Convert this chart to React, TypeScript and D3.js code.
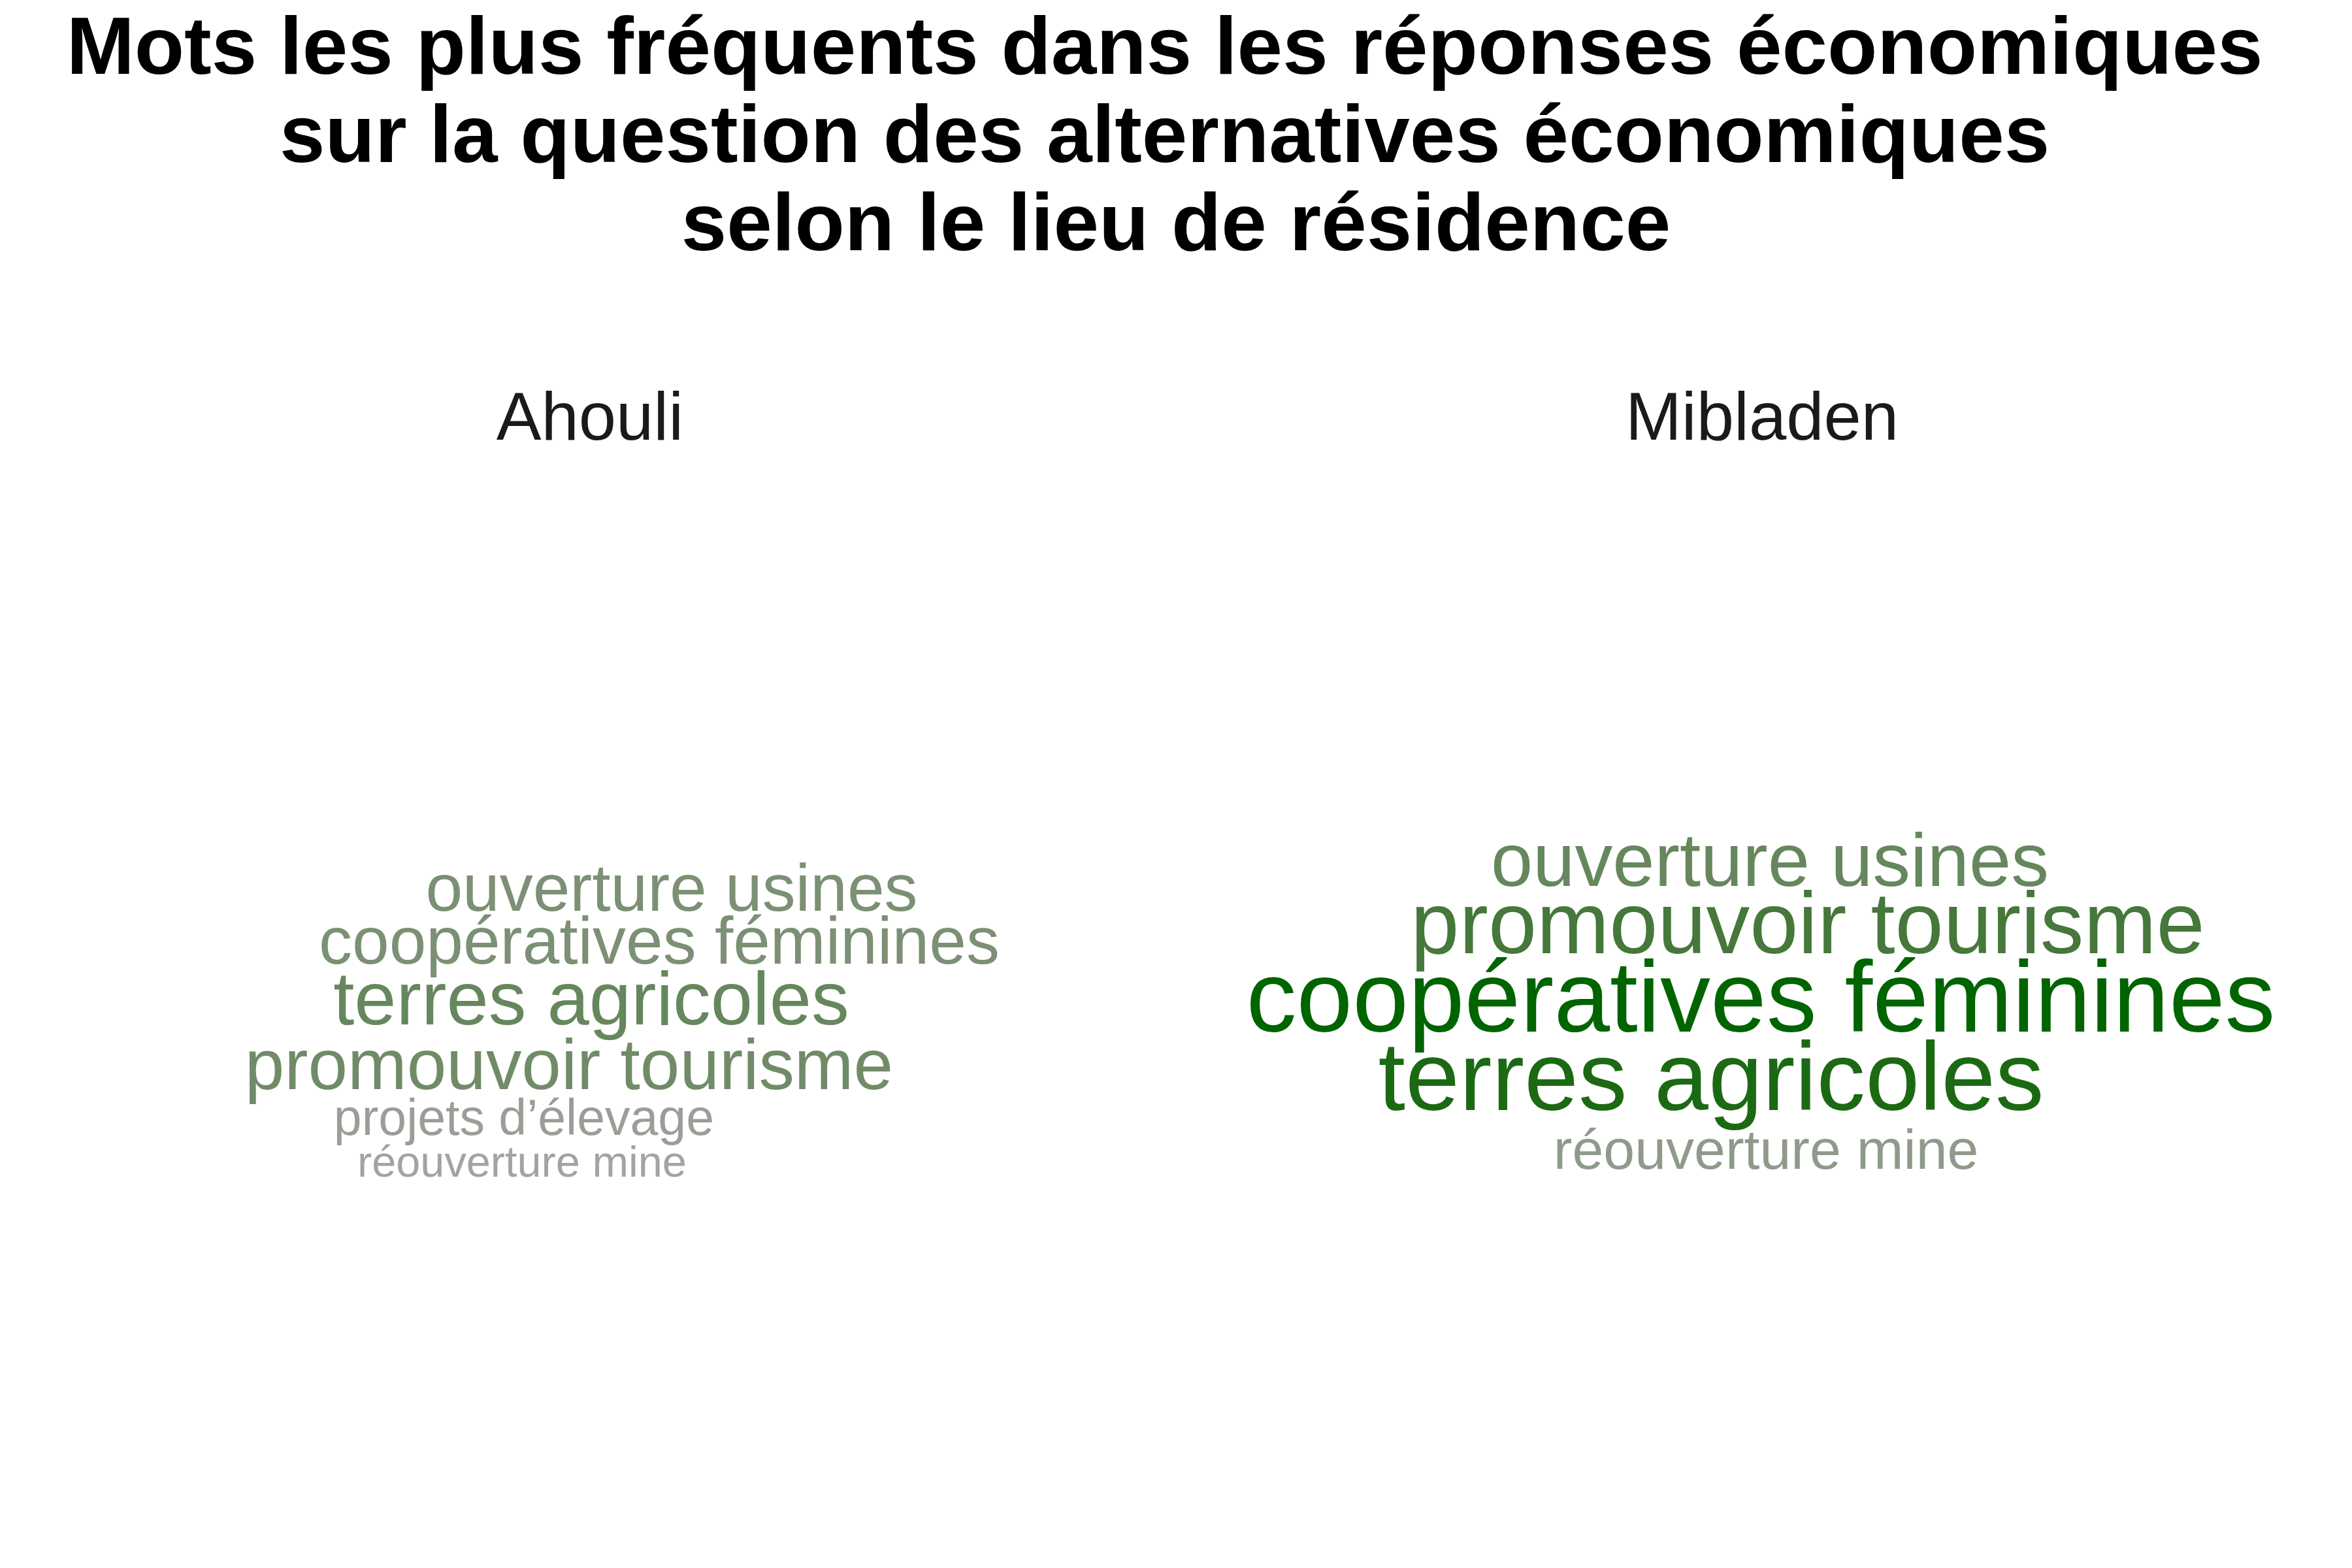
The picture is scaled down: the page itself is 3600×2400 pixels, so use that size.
import React from "react";
import * as d3 from "d3";

const WIDTH = 3600;
const HEIGHT = 2400;

const titleLines = [
  "Mots les plus fréquents dans les réponses économiques ",
  "sur la question des alternatives économiques ",
  "selon le lieu de résidence",
];

const panels = ["Ahouli", "Mibladen"];

// Ahouli
const ahouliWords = [
  "ouverture usines",
  "coopératives féminines",
  "terres agricoles",
  "promouvoir tourisme",
  "projets d’élevage",
  "réouverture mine",
];
const ahouliFreq = [7, 7, 9, 8, 4, 3];
// word-cloud layout offsets (centre x, baseline y) relative to panel centre
const ahouliX = [125, 106, 2, -32, -101, -104];
const ahouliY = [-158, -77, 16, 115, 185, 249];

// Mibladen
const mibladenWords = [
  "ouverture usines",
  "promouvoir tourisme",
  "coopératives féminines",
  "terres agricoles",
  "réouverture mine",
];
const mibladenFreq = [9, 12, 16, 15, 5];
const mibladenX = [12, 70, -2, -78, 6];
const mibladenY = [-196, -93, 27, 147, 237];

const panelData = [
  { name: panels[0], words: ahouliWords, freq: ahouliFreq, xs: ahouliX, ys: ahouliY },
  { name: panels[1], words: mibladenWords, freq: mibladenFreq, xs: mibladenX, ys: mibladenY },
];

const FONT = "'Liberation Sans', Arial, Helvetica, sans-serif";

export default function App() {
  const band = d3
    .scaleBand<string>()
    .domain(panels)
    .range([17, WIDTH - 17])
    .paddingInner(0.0124);

  const allFreq = [...ahouliFreq, ...mibladenFreq];
  const sizeScale = d3
    .scaleSqrt()
    .domain([0, d3.max(allFreq) as number])
    .range([0, 154]);
  const colorScale = d3
    .scaleLinear<string>()
    .domain([d3.min(allFreq) as number, d3.max(allFreq) as number])
    .range(["#A3A3A3", "#006400"])
    .interpolate(d3.interpolateLab);

  const panelTop = 720;
  const panelBottom = 2384;

  return (
    <svg
      width={WIDTH}
      height={HEIGHT}
      style={{ position: "absolute", left: 0, top: 0, background: "#ffffff" }}
    >
      <rect x={0} y={0} width={WIDTH} height={HEIGHT} fill="#ffffff" />
      {titleLines.map((t, i) => (
        <text
          key={i}
          x={WIDTH / 2}
          y={113 + i * 135}
          textAnchor="middle"
          fontFamily={FONT}
          fontWeight="bold"
          fontSize={125}
          fill="#000000"
          style={{ whiteSpace: "pre" }}
        >
          {t}
        </text>
      ))}
      {panelData.map((p) => {
        const x0 = band(p.name) as number;
        const bw = band.bandwidth();
        const xScale = d3
          .scaleLinear()
          .domain([-bw / 2, bw / 2])
          .range([x0, x0 + bw]);
        const half = (panelBottom - panelTop) / 2;
        const yScale = d3
          .scaleLinear()
          .domain([-half, half])
          .range([panelTop, panelBottom]);
        return (
          <g key={p.name}>
            <text
              x={xScale(0)}
              y={673}
              textAnchor="middle"
              fontFamily={FONT}
              fontSize={103}
              fill="#1A1A1A"
            >
              {p.name}
            </text>
            {p.words.map((w, i) => (
              <text
                key={w}
                x={xScale(p.xs[i])}
                y={yScale(p.ys[i])}
                textAnchor="middle"
                fontFamily={FONT}
                fontSize={sizeScale(p.freq[i])}
                fill={colorScale(p.freq[i])}
              >
                {w}
              </text>
            ))}
          </g>
        );
      })}
    </svg>
  );
}
